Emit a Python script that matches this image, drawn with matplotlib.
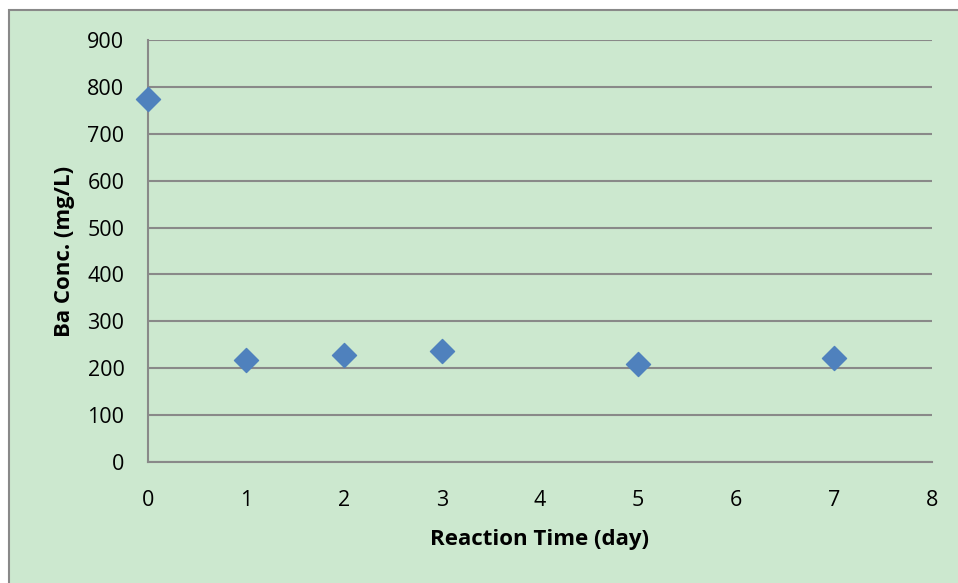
import matplotlib
matplotlib.use("Agg")
import matplotlib.pyplot as plt
from matplotlib.patches import Rectangle

days = [0, 1, 2, 3, 5, 7]
ba_conc = [775, 217, 228, 237, 209, 221]
xticks = [0, 1, 2, 3, 4, 5, 6, 7, 8]
yticks = [0, 100, 200, 300, 400, 500, 600, 700, 800, 900]

plt.rcParams['font.family'] = ['Open Sans', 'DejaVu Sans']
bg = '#cce8cf'
gridc = '#898989'

fig = plt.figure(figsize=(9.58, 5.83), dpi=100, facecolor='white')
W, H = 958, 583
# chart area frame, running off the right and bottom edges
fig.patches.append(Rectangle((9 / W, -0.05), 1, 1.05 - 10 / H, transform=fig.transFigure,
                             facecolor=bg, edgecolor=gridc, linewidth=1.5, zorder=-5))

ax = fig.add_axes([148 / W, 1 - 462 / H, (932 - 148) / W, (462 - 40) / H])
ax.set_facecolor(bg)
ax.set_xlim(0, 8)
ax.set_ylim(0, 900)
ax.set_xticks(xticks)
ax.set_yticks(yticks)
ax.yaxis.grid(True, color=gridc, linewidth=1.5)
ax.set_axisbelow(True)
for s in ['top', 'right']:
    ax.spines[s].set_visible(False)
for s in ['left', 'bottom']:
    ax.spines[s].set_color(gridc)
    ax.spines[s].set_linewidth(1.5)
ax.tick_params(axis='x', length=0, labelsize=15.5, pad=20)
ax.tick_params(axis='y', length=0, labelsize=15.5, pad=17)

ax.scatter(days, ba_conc, marker='D', s=150, color='#4f81bd', zorder=3, clip_on=False)

ax.set_xlabel('Reaction Time (day)', fontsize=16, fontweight='bold', labelpad=13)
ax.set_ylabel('Ba Conc. (mg/L)', fontsize=16, fontweight='bold', labelpad=9)

fig.savefig('out.png', dpi=100, facecolor=fig.get_facecolor())
